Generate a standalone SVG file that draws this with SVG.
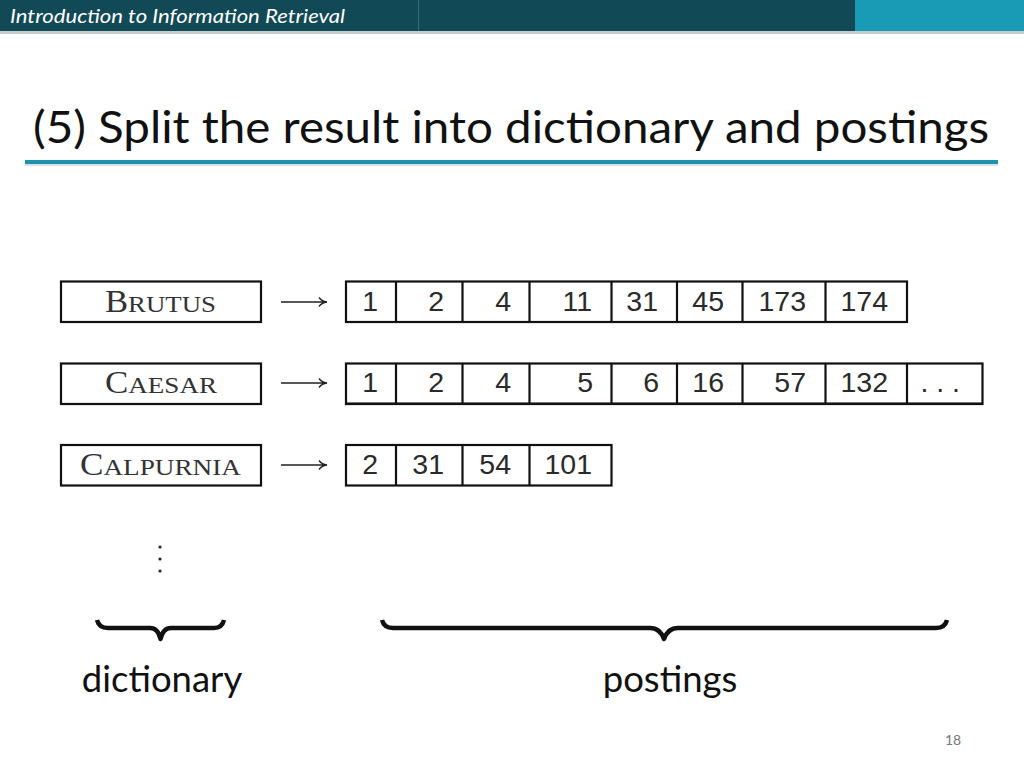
<svg xmlns="http://www.w3.org/2000/svg" width="1024" height="768" viewBox="0 0 1024 768">
<defs>
<style>
.box{fill:#fff;stroke:#111;stroke-width:2.2}
.div{stroke:#111;stroke-width:2.2}
.num{font-family:"Liberation Sans",Arial,sans-serif;font-size:28.5px;fill:#2a2a2a;text-anchor:end}
.dict{font-family:"Liberation Serif","Times New Roman",serif;fill:#333;text-anchor:middle}
.big{font-size:31px}
.sc{font-size:24px}
.arr{fill:none;stroke:#222;stroke-width:1.3}
.brace{fill:none;stroke:#111;stroke-width:4.5;stroke-linejoin:round}
.lbl{font-family:"Lato","Open Sans",sans-serif;font-size:36.5px;fill:#111;text-anchor:middle}
</style>
</defs>
<rect width="1024" height="768" fill="#fff"/>
<!-- header -->
<g id="header">
<rect x="0" y="0" width="855" height="31" fill="#114a56"/>
<rect x="855" y="0" width="169" height="31" fill="#1a9bb5"/>
<line x1="418.5" y1="0" x2="418.5" y2="31" stroke="#3b6d78" stroke-width="1"/>
<rect x="0" y="31" width="1024" height="3" fill="#c5cdd0"/>
<text x="10" y="23" font-family="Lato,'Open Sans',sans-serif" font-style="italic" font-size="20" fill="#fff" textLength="335" lengthAdjust="spacingAndGlyphs">Introduction to Information Retrieval</text>
</g>
<g id="title">
<text x="511" y="143" text-anchor="middle" font-family="Lato,'Open Sans',sans-serif" font-size="44" fill="#111" textLength="956" lengthAdjust="spacingAndGlyphs">(5) Split the result into dictionary and postings</text>
<rect x="25" y="160" width="973" height="4" fill="#1e93ad"/>
<rect x="25" y="164" width="973" height="2" fill="#d5e3e7"/>
</g>
<!-- dictionary nodes -->
<g id="dict-brutus">
<rect class="box" x="61" y="281.5" width="200" height="40.5"/>
<text class="dict" x="160.5" y="311.5" textLength="111" lengthAdjust="spacingAndGlyphs"><tspan class="big">B</tspan><tspan class="sc">RUTUS</tspan></text>
</g>
<g id="dict-caesar">
<rect class="box" x="61" y="363.5" width="200" height="40.5"/>
<text class="dict" x="161" y="392.5" textLength="112" lengthAdjust="spacingAndGlyphs"><tspan class="big">C</tspan><tspan class="sc">AESAR</tspan></text>
</g>
<g id="dict-calpurnia">
<rect class="box" x="61" y="445" width="200" height="40.5"/>
<text class="dict" x="160.5" y="474.5" textLength="161" lengthAdjust="spacingAndGlyphs"><tspan class="big">C</tspan><tspan class="sc">ALPURNIA</tspan></text>
</g>
<!-- postings -->
<g id="post-brutus">
<rect class="box" x="346" y="281.5" width="561" height="40.5"/>
<path class="div" d="M396,281.5V322M462.5,281.5V322M529.5,281.5V322M611.5,281.5V322M677,281.5V322M742.5,281.5V322M825.5,281.5V322"/>
<text class="num" x="378" y="311">1</text>
<text class="num" x="444" y="311">2</text>
<text class="num" x="511" y="311">4</text>
<text class="num" x="592" y="311">11</text>
<text class="num" x="658" y="311">31</text>
<text class="num" x="724" y="311">45</text>
<text class="num" x="806" y="311">173</text>
<text class="num" x="888" y="311">174</text>
</g>
<g id="post-caesar">
<rect class="box" x="346" y="363.5" width="636.5" height="40.5"/>
<path class="div" d="M396,363.5V404M462.5,363.5V404M529.5,363.5V404M611.5,363.5V404M677,363.5V404M742.5,363.5V404M825.5,363.5V404M907,363.5V404"/>
<line x1="346" y1="403.5" x2="982.5" y2="403.5" stroke="#111" stroke-width="2"/>
<text class="num" x="378" y="392">1</text>
<text class="num" x="444" y="392">2</text>
<text class="num" x="511" y="392">4</text>
<text class="num" x="593" y="392">5</text>
<text class="num" x="659" y="392">6</text>
<text class="num" x="724" y="392">16</text>
<text class="num" x="806" y="392">57</text>
<text class="num" x="888" y="392">132</text>
<text class="num" x="960" y="392">. . .</text>
</g>
<g id="post-calpurnia">
<rect class="box" x="346" y="445" width="265.5" height="40.5"/>
<path class="div" d="M396,445V485.5M462.5,445V485.5M529.5,445V485.5"/>
<text class="num" x="378" y="474">2</text>
<text class="num" x="444" y="474">31</text>
<text class="num" x="511" y="474">54</text>
<text class="num" x="592" y="474">101</text>
</g>
<!-- connectors -->
<g id="connectors">
<path class="arr" d="M281,302H326M319,297.5Q322,301.5 327,302Q322,302.5 319,306.5"/>
<path class="arr" d="M281,383H326M319,378.5Q322,382.5 327,383Q322,383.5 319,387.5"/>
<path class="arr" d="M281,465H326M319,460.5Q322,464.5 327,465Q322,465.5 319,469.5"/>
</g>
<g id="vdots" fill="#222">
<circle cx="160" cy="547" r="1.6"/>
<circle cx="160" cy="559" r="1.6"/>
<circle cx="160" cy="571" r="1.6"/>
</g>
<g id="braces">
<path class="brace" d="M97,620Q99,628 108,628H150Q158,628 160.5,639Q163,628 171,628H214Q222,628 224,620"/>
<path class="brace" d="M382,620Q384,628 393,628H650Q660,628 664,639Q668,628 678,628H936Q945,628 947,620"/>
</g>
<text class="lbl" x="162" y="692">dictionary</text>
<text class="lbl" x="670" y="692">postings</text>
<text x="953" y="745" text-anchor="middle" font-family="Lato,'Open Sans',sans-serif" font-size="14" fill="#777">18</text>
</svg>
